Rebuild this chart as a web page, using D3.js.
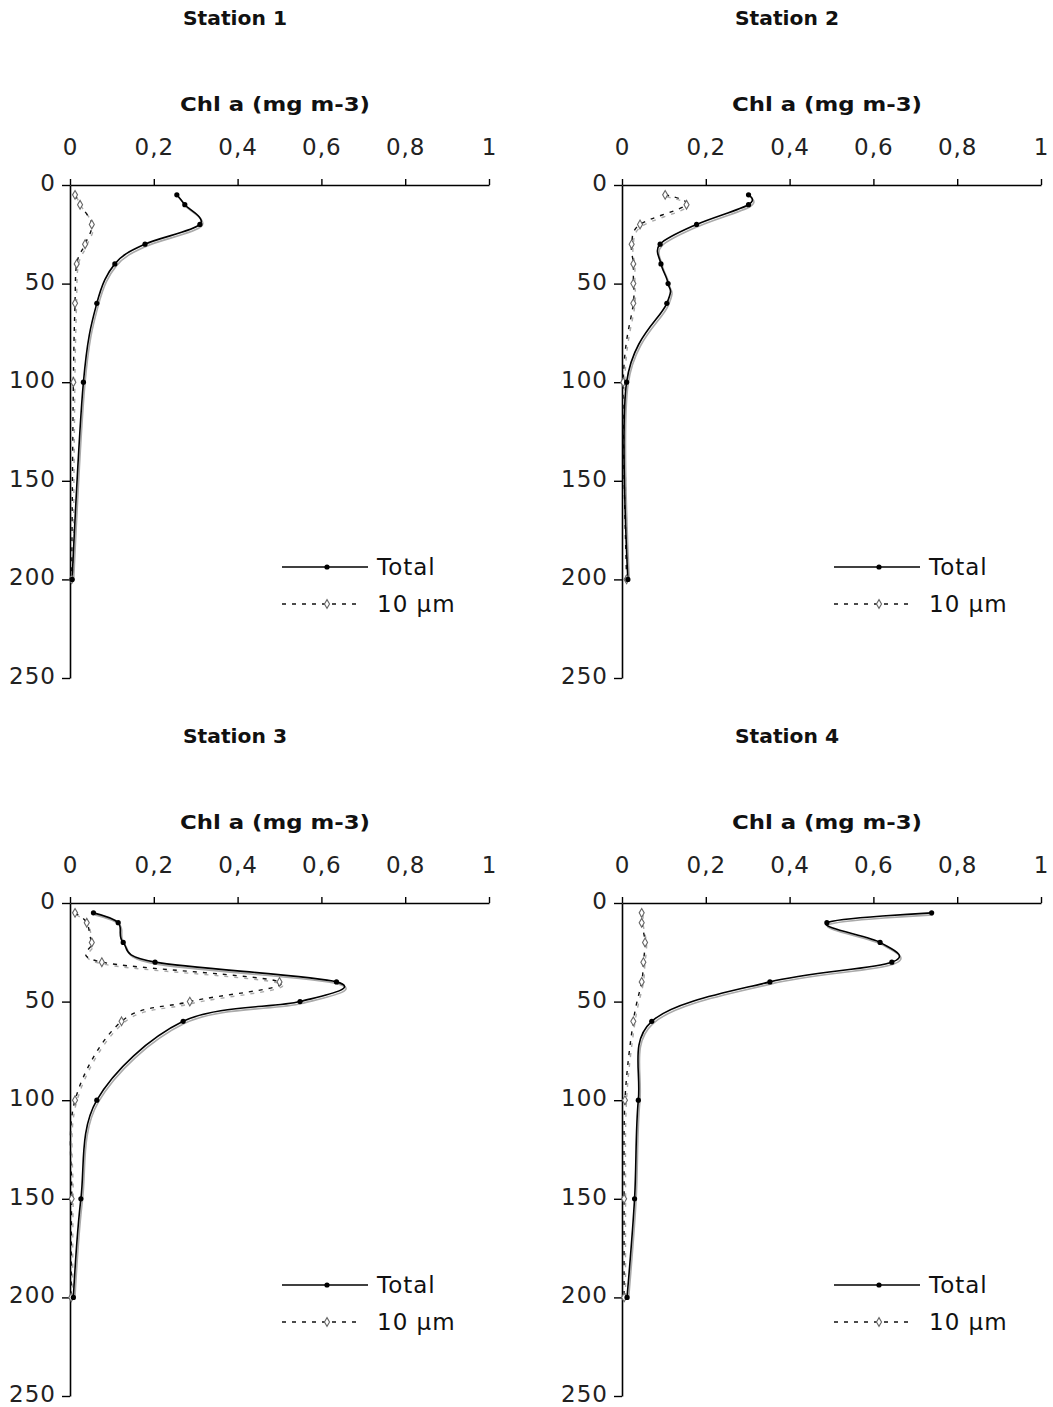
<!DOCTYPE html>
<html><head><meta charset="utf-8">
<script src="https://cdn.jsdelivr.net/npm/d3@7/dist/d3.min.js"></script>
<style>
body{margin:0;background:#fff;}
svg{display:block;font-family:"DejaVu Sans",Verdana,sans-serif;}
</style></head>
<body>
<svg id="chart" width="1053" height="1407"></svg>
<script>
// ---- data ----
const stations = ["Station 1","Station 2","Station 3","Station 4"];
const axisTitle = "Chl a (mg m-3)";
const xTicks = [0,0.2,0.4,0.6,0.8,1];
const yTicks = [0,50,100,150,200,250];
const seriesNames = ["Total","10 µm"];

const depth1 = [5,10,20,30,40,60,100,200];
const total1 = [0.255,0.274,0.31,0.179,0.107,0.064,0.032,0.005];
const small1 = [0.012,0.024,0.052,0.036,0.016,0.012,0.008,0.004];

const depth2 = [5,10,20,30,40,50,60,100,200];
const total2 = [0.302,0.302,0.178,0.091,0.093,0.11,0.107,0.011,0.014];
const small2 = [0.103,0.154,0.043,0.023,0.027,0.027,0.027,0.003,0.011];

const depth3 = [5,10,20,30,40,50,60,100,150,200];
const total3 = [0.056,0.115,0.127,0.203,0.636,0.549,0.27,0.064,0.026,0.008];
const small3 = [0.012,0.04,0.052,0.076,0.50,0.286,0.123,0.012,0.004,0.003];

const depth4 = [5,10,20,30,40,60,100,150,200];
const total4 = [0.739,0.489,0.616,0.644,0.353,0.071,0.039,0.03,0.012];
const small4 = [0.047,0.047,0.055,0.051,0.047,0.027,0.007,0.005,0.005];

const depths = [depth1,depth2,depth3,depth4];
const totals = [total1,total2,total3,total4];
const smalls = [small1,small2,small3,small4];

// ---- layout ----
const svg = d3.select("#chart");
const panelPos = [[70,185],[622,185],[70,903],[622,903]];
const pw = 419, ph = 493;
const fmt = d => String(d).replace(".",",");

panelPos.forEach(([x0,y0],i)=>{
  const g = svg.append("g").attr("transform",`translate(${x0},${y0})`);
  const x = d3.scaleLinear().domain([0,1]).range([0,pw]);
  const y = d3.scaleLinear().domain([0,250]).range([0,ph]);

  // titles
  g.append("text").attr("x",165).attr("y",-160).attr("text-anchor","middle")
    .attr("font-weight","bold").attr("font-size",19).attr("fill","#111")
    .attr("textLength",104).attr("lengthAdjust","spacingAndGlyphs").text(stations[i]);
  g.append("text").attr("x",205).attr("y",-74).attr("text-anchor","middle")
    .attr("font-weight","bold").attr("font-size",19).attr("fill","#111")
    .attr("textLength",190).attr("lengthAdjust","spacingAndGlyphs").text(axisTitle);

  // axes
  const xa = g.append("g").call(d3.axisTop(x).tickValues(xTicks).tickFormat(fmt).tickSize(6).tickPadding(24).tickSizeOuter(0));
  const ya = g.append("g").call(d3.axisLeft(y).tickValues(yTicks).tickSize(8).tickPadding(6).tickSizeOuter(0));
  [xa,ya].forEach(a=>{
    a.select(".domain").attr("stroke","#000").attr("stroke-width",1.6);
    a.selectAll(".tick line").attr("stroke","#000").attr("stroke-width",1.4);
    a.selectAll(".tick text").attr("font-size",23).attr("fill","#222")
      .attr("font-family","'DejaVu Sans',Verdana,sans-serif").style("letter-spacing","1px");
  });
  ya.selectAll(".tick text").attr("dy","0.24em");

  const dep = depths[i];
  const line = d3.line().x(d=>x(d[0])).y(d=>y(d[1])).curve(d3.curveCatmullRom.alpha(0));
  const tot = dep.map((d,k)=>[totals[i][k],d]);
  const sm = dep.map((d,k)=>[smalls[i][k],d]);

  // grey shadow copies
  const sh = g.append("g").attr("transform","translate(1.5,2)");
  sh.append("path").attr("d",line(sm)).attr("fill","none").attr("stroke","#aaa").attr("stroke-width",1.4).attr("stroke-dasharray","4,6");
  sh.append("path").attr("d",line(tot)).attr("fill","none").attr("stroke","#aaa").attr("stroke-width",1.6);

  g.append("path").attr("d",line(sm)).attr("fill","none").attr("stroke","#111").attr("stroke-width",1.4).attr("stroke-dasharray","4,6");
  g.append("path").attr("d",line(tot)).attr("fill","none").attr("stroke","#000").attr("stroke-width",1.6);

  g.selectAll(".ms").data(sm).join("path").attr("class","ms")
    .attr("d",d3.symbol(d3.symbolDiamond,22)())
    .attr("transform",d=>`translate(${x(d[0])},${y(d[1])})`)
    .attr("fill","#fff").attr("stroke","#666").attr("stroke-width",1.1);
  g.selectAll(".mt").data(tot).join("circle").attr("class","mt")
    .attr("cx",d=>x(d[0])).attr("cy",d=>y(d[1])).attr("r",2.6).attr("fill","#000");

  // legend
  const lg = g.append("g").attr("transform","translate(212,382)");
  lg.append("line").attr("x1",0).attr("x2",86).attr("y1",0).attr("y2",0).attr("stroke","#000").attr("stroke-width",1.5);
  lg.append("circle").attr("cx",45).attr("cy",0).attr("r",2.6).attr("fill","#000");
  lg.append("text").attr("x",95).attr("y",8).attr("font-size",23).attr("fill","#111").style("letter-spacing","1px").text(seriesNames[0]);
  lg.append("line").attr("x1",0).attr("x2",80).attr("y1",37).attr("y2",37).attr("stroke","#111").attr("stroke-width",1.4).attr("stroke-dasharray","4,6");
  lg.append("path").attr("d",d3.symbol(d3.symbolDiamond,22)()).attr("transform","translate(45,37)")
    .attr("fill","#fff").attr("stroke","#666").attr("stroke-width",1.1);
  lg.append("text").attr("x",95).attr("y",45).attr("font-size",23).attr("fill","#111").style("letter-spacing","1px").text(seriesNames[1]);
});
</script>
</body></html>
